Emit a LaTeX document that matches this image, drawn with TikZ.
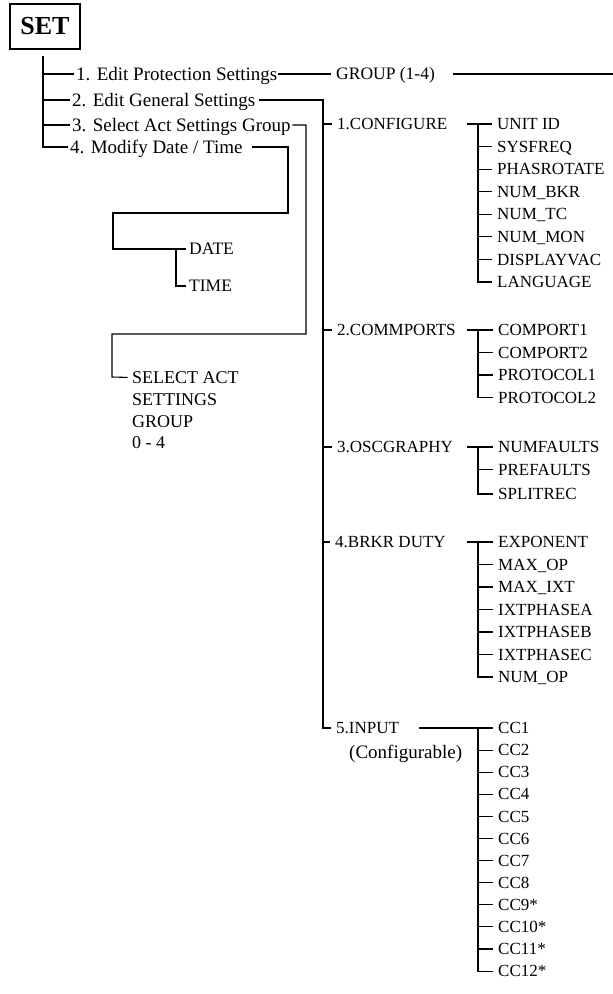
\documentclass[tikz,border=0pt]{standalone}
\usepackage{fontspec}
\setmainfont{Liberation Serif}
\begin{document}
\begin{tikzpicture}[x=1pt,y=-1pt,
  lbl/.style={anchor=west, inner sep=0pt, text depth=0pt},
  itm/.style={lbl, font=\fontsize{19}{22}\selectfont, text height=12.5pt},
  capl/.style={lbl, font=\fontsize{17}{20}\selectfont, text height=11.2pt},
  ln/.style={line width=1.1pt, line cap=rect}]
\useasboundingbox (0,0) rectangle (613,994);

% root
\node[draw, line width=2.3pt, minimum width=70pt, minimum height=45pt, inner sep=0pt,
      font=\fontsize{26}{30}\selectfont\bfseries] (set) at (45,26.5) {SET};
\coordinate (t0) at (43,57);

% main menu items
\node[itm] (i1) at (76,74) {1. Edit Protection Settings};
\node[itm] (i2) at (72,100) {2. Edit General Settings};
\node[itm] (i3) at (72,125) {3. Select Act Settings Group};
\node[itm] (i4) at (70,147) {4. Modify Date / Time};

\draw[ln] (t0) |- ([xshift=-3pt]i4.west);
\foreach \n in {i1,i2,i3}{\draw[ln] (t0 |- \n.west) -- ([xshift=-3pt]\n.west);}

% group
\node[lbl, font=\fontsize{17.5}{20}\selectfont, text height=11.5pt] (grp) at (336,74) {GROUP (1-4)};
\coordinate (gend) at (612,0);
\draw[ln] ([xshift=1pt]i1.east) -- ([xshift=-6pt]grp.west);
\draw[ln] ([xshift=18pt]grp.east) -- (grp.east -| gend);

% date / time
\coordinate (v4) at (288,213);
\coordinate (h4) at (113,213);
\coordinate (dj) at (176,0);
\node[capl, font=\fontsize{17.5}{20}\selectfont] (date) at (189,249) {DATE};
\node[capl, font=\fontsize{17.5}{20}\selectfont] (time) at (189,286) {TIME};
\draw[ln] ([xshift=10pt]i4.east) -- (i4.east -| v4) -- (v4) -- (h4) -- (h4 |- date.west) -- ([xshift=-4pt]date.west);
\draw[ln] (dj |- date.west) -- (dj |- time.west) -- ([xshift=-4pt]time.west);

% select act settings group
\coordinate (v3) at (306,334);
\coordinate (h3) at (112,334);
\node[anchor=north west, inner sep=0pt, align=left, font=\fontsize{18}{21.7}\selectfont] (sel) at (132,371.5)
  {SELECT ACT\\SETTINGS\\GROUP\\0 - 4};
\draw[ln] ([xshift=2pt]i3.east) -- (i3.east -| v3) -- (v3) -- (h3) -- (h3 |- 0,377) -- ([xshift=-5pt,yshift=-5.9pt]sel.north west);

% general settings column
\coordinate (v2) at (323,0);
\node[capl] (cfg) at (337,124) {1.CONFIGURE};
\node[capl] (com) at (337,330) {2.COMMPORTS};
\node[capl] (osc) at (337,447) {3.OSCGRAPHY};
\node[capl] (brk) at (335,542) {4.BRKR DUTY};
\node[capl] (inp) at (336,728) {5.INPUT};
\node[itm] (cnf) at (349,752) {(Configurable)};

\draw[ln] ([xshift=4pt]i2.east) -- (i2.east -| v2) -- (v2 |- inp.west) -- ([xshift=-6pt]inp.west);
\foreach \n in {cfg,com,osc,brk}{\draw[ln] (v2 |- \n.west) -- ([xshift=-6pt]\n.west);}

\coordinate (sx) at (468,0);
\coordinate (jx) at (478,0);

% configure
\foreach \t [count=\i] in {UNIT ID,SYSFREQ,PHASROTATE,NUM\_BKR,NUM\_TC,NUM\_MON,DISPLAYVAC,LANGUAGE}
  {\node[capl] (c\i) at (497,{124+22.57*(\i-1)}) {\t};
   \draw[ln] (jx |- c\i.west) -- ([xshift=-6pt]c\i.west);}
\draw[ln] (sx |- cfg.west) -- (jx |- c1.west) -- (jx |- c8.west);

% commports
\foreach \t [count=\i] in {COMPORT1,COMPORT2,PROTOCOL1,PROTOCOL2}
  {\node[capl] (p\i) at (498,{330+22.5*(\i-1)}) {\t};
   \draw[ln] (jx |- p\i.west) -- ([xshift=-6pt]p\i.west);}
\draw[ln] (sx |- com.west) -- (jx |- p1.west) -- (jx |- p4.west);

% oscgraphy
\node[capl] (o1) at (498,447) {NUMFAULTS};
\node[capl] (o2) at (498,469.5) {PREFAULTS};
\node[capl] (o3) at (498,494) {SPLITREC};
\foreach \n in {o1,o2,o3}{\draw[ln] (jx |- \n.west) -- ([xshift=-6pt]\n.west);}
\draw[ln] (sx |- osc.west) -- (jx |- o1.west) -- (jx |- o3.west);

% brkr duty
\foreach \t [count=\i] in {EXPONENT,MAX\_OP,MAX\_IXT,IXTPHASEA,IXTPHASEB,IXTPHASEC,NUM\_OP}
  {\node[capl] (b\i) at (498,{542+22.5*(\i-1)}) {\t};
   \draw[ln] (jx |- b\i.west) -- ([xshift=-6pt]b\i.west);}
\draw[ln] (sx |- brk.west) -- (jx |- b1.west) -- (jx |- b7.west);

% input
\foreach \t [count=\i] in {CC1,CC2,CC3,CC4,CC5,CC6,CC7,CC8,CC9*,CC10*,CC11*,CC12*}
  {\node[capl] (k\i) at (498,{728+22.1*(\i-1)}) {\t};
   \draw[ln] (jx |- k\i.west) -- ([xshift=-6pt]k\i.west);}
\draw[ln] ([xshift=20pt]inp.east) -- (jx |- k1.west) -- (jx |- k12.west);
\end{tikzpicture}
\end{document}
